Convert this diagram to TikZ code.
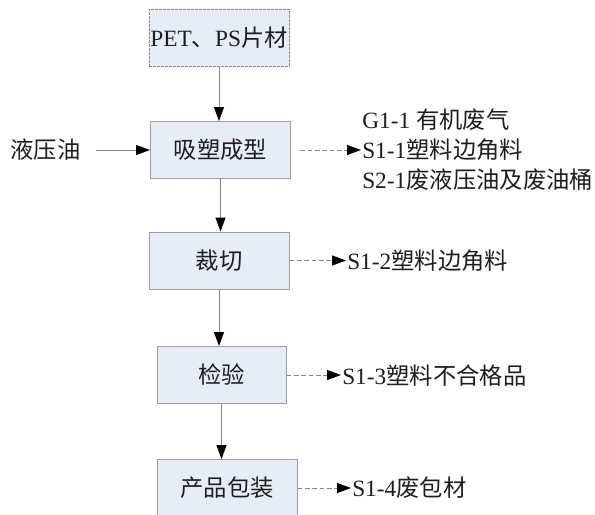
\documentclass[tikz,border=0pt]{standalone}
\usepackage{fontspec}
\setmainfont{Liberation Serif}
\newfontfamily\cjk{Noto Sans CJK SC}
\usetikzlibrary{arrows.meta}
\definecolor{boxfill}{RGB}{231,237,247}
\definecolor{boxline}{RGB}{158,158,158}
\definecolor{flowline}{RGB}{135,135,135}
\definecolor{inktext}{RGB}{30,30,30}

\tikzset{
  stepbox/.style={draw=boxline, fill=boxfill, line width=0.75, minimum width=105pt, minimum height=42.75pt, inner sep=0.75pt, text=inktext, font=\fontsize{17.5}{20}\selectfont},
  sidetext/.style={anchor=west, inner sep=0.75pt, text=inktext, align=left, font=\fontsize{17.5}{22.5}\selectfont},
  flow/.style={draw=flowline, line width=0.75, -{Triangle[length=10.5pt,width=7.5pt,color=black]}},
  waste/.style={flow, dash pattern=on 3.5pt off 2pt},
}

\begin{document}
\begin{tikzpicture}[x=0.75pt,y=0.75pt,yscale=-1,xscale=1]
\useasboundingbox (0,0) rectangle (595,514);

%Shape: Rectangle [raw material]
\node [stepbox, draw=flowline, dash pattern=on 2pt off 1pt] (sheet) at (219,37.5) {PET{\cjk 、}PS{\cjk 片材}};
%Shape: Rectangle [forming]
\node [stepbox] (form) at (220.5,150) {\cjk 吸塑成型};
%Shape: Rectangle [cutting]
\node [stepbox] (cut) at (219,260.5) {\cjk 裁切};
%Shape: Rectangle [inspection]
\node [stepbox, minimum width=96.75pt] (check) at (221.5,375) {\cjk 检验};
%Shape: Rectangle [packing]
\node [stepbox] (pack) at (227,488) {\cjk 产品包装};

% Text Node
\node [sidetext, anchor=center] (oil) at (45.5,150) {\cjk 液压油};
% Text Node
\node [sidetext] (outform) at (361,150) {G1-1 {\cjk 有机废气}\\S1-1{\cjk 塑料边角料}\\S2-1{\cjk 废液压油及废油桶}};
% Text Node
\node [sidetext] (outcut) at (346,261) {S1-2{\cjk 塑料边角料}};
% Text Node
\node [sidetext] (outcheck) at (341,376) {S1-3{\cjk 塑料不合格品}};
% Text Node
\node [sidetext] (outpack) at (351,488) {S1-4{\cjk 废包材}};

%Straight Lines [main flow]
\draw [flow] (sheet.south) -- (sheet.south |- form.north);
\draw [flow] (form.south) -- (form.south |- cut.north);
\draw [flow] (cut.south) -- (cut.south |- check.north);
\draw [flow] (check.south) -- (check.south |- pack.north);
%Straight Lines [input]
\draw [flow, shorten <=11pt] (oil.east) -- (oil.east -| form.west);
%Straight Lines [waste]
\draw [waste, shorten <=7pt] (form.east) -- (form.east -| outform.west);
\draw [waste] (cut.east) -- (cut.east -| outcut.west);
\draw [waste] (check.east) -- (check.east -| outcheck.west);
\draw [waste] (pack.east) -- (pack.east -| outpack.west);

\end{tikzpicture}
\end{document}
